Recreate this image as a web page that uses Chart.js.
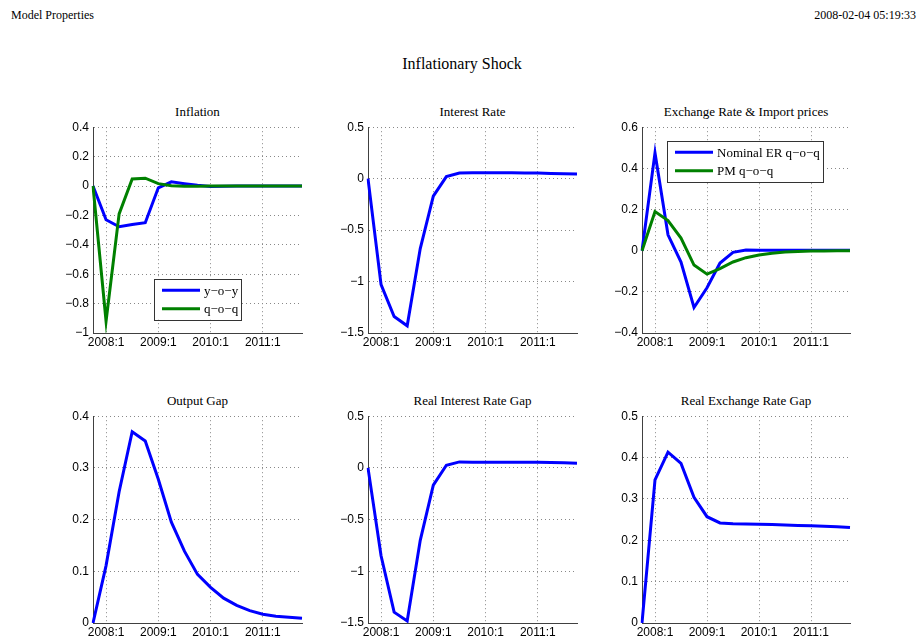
<!DOCTYPE html>
<html>
<head>
<meta charset="utf-8">
<title>Inflationary Shock</title>
<script src="https://cdn.jsdelivr.net/npm/chart.js@4.4.1/dist/chart.umd.min.js"></script>
<style>
body { margin: 0; background: #fff; width: 917px; height: 642px; position: relative; overflow: hidden; font-family: "Liberation Serif", "Times New Roman", serif; color: #000; }
.txt { position: absolute; white-space: nowrap; line-height: 1; }
.ttl { position: absolute; text-align: center; font-size: 13px; line-height: 1; white-space: nowrap; }
canvas { position: absolute; }
</style>
</head>
<body>
<div class="txt" style="left:11px; top:9px; font-size:12px;">Model Properties</div>
<div class="txt" style="right:1px; top:9px; font-size:12px;">2008-02-04 05:19:33</div>
<div class="txt" style="left:0; width:924px; text-align:center; top:56px; font-size:16px;">Inflationary Shock</div>
<div id="wrap"></div>
<script>
// quarters 2007:4 .. 2011:4
var quarters = ['2007:4','2008:1','2008:2','2008:3','2008:4','2009:1','2009:2','2009:3','2009:4',
	'2010:1','2010:2','2010:3','2010:4','2011:1','2011:2','2011:3','2011:4'];

var infl_yoy = [0, -0.23, -0.277, -0.262, -0.25, -0.012, 0.028, 0.016, 0.005, -0.003, -0.002, 0, 0, 0, 0, 0, 0];
var infl_qoq = [0, -0.92, -0.19, 0.048, 0.053, 0.016, 0.001, -0.002, -0.001, 0, 0, 0, 0, 0, 0, 0, 0];

var int_rate = [0, -1.03, -1.34, -1.43, -0.68, -0.17, 0.02, 0.055, 0.057, 0.057, 0.057, 0.057, 0.056, 0.054, 0.051, 0.048, 0.045];

var ner_qoq = [0, 0.475, 0.077, -0.055, -0.276, -0.18, -0.06, -0.008, 0.003, 0.002, 0.002, 0.002, 0.002, 0.002, 0.002, 0.002, 0.002];
var pm_qoq = [0, 0.19, 0.146, 0.061, -0.07, -0.114, -0.087, -0.055, -0.034, -0.021, -0.013, -0.007, -0.004, -0.002, -0.001, 0, 0];

var output_gap = [0, 0.111, 0.254, 0.37, 0.352, 0.278, 0.195, 0.139, 0.094, 0.069, 0.048, 0.034, 0.024, 0.017, 0.013, 0.011, 0.009];

var real_int_gap = [0, -0.85, -1.395, -1.48, -0.7, -0.167, 0.026, 0.058, 0.055, 0.054, 0.054, 0.055, 0.055, 0.054, 0.052, 0.05, 0.045];

var real_er_gap = [0, 0.346, 0.413, 0.386, 0.304, 0.257, 0.242, 0.24, 0.2395, 0.239, 0.238, 0.237, 0.236, 0.235, 0.234, 0.233, 0.231];

var BLUE = '#0000ff', GREEN = '#008000';

// boxed legend drawn inside the axes, like matlab's
var boxLegend = {
	id: 'boxLegend',
	afterDatasetsDraw(chart, args, opts) {
		if(!opts.display) return;
		let ctx = chart.ctx, a = chart.chartArea;
		let sets = chart.data.datasets;
		ctx.save();
		ctx.font = '13px "Liberation Serif", serif';
		let tw = 0;
		for(let i = 0; i < sets.length; i++) tw = Math.max(tw, ctx.measureText(sets[i].label).width);
		let x = a.left + opts.x, y = a.top + opts.y;
		let w = 8 + 38 + 4 + tw + 3, h = 11 + 18.5*(sets.length-1) + 11;
		ctx.fillStyle = '#fff';
		ctx.fillRect(x, y, w, h);
		ctx.strokeStyle = '#333';
		ctx.lineWidth = 1;
		ctx.strokeRect(Math.round(x)+0.5, Math.round(y)+0.5, Math.round(w), Math.round(h));
		ctx.textBaseline = 'middle';
		for(let i = 0; i < sets.length; i++) {
			let ry = y + 11 + i*18.5;
			ctx.strokeStyle = sets[i].borderColor;
			ctx.lineWidth = 3;
			ctx.beginPath();
			ctx.moveTo(x+8, ry);
			ctx.lineTo(x+46, ry);
			ctx.stroke();
			ctx.fillStyle = '#000';
			ctx.fillText(sets[i].label, x+50, ry+1);
		}
		ctx.restore();
	}
};

function fmt(v) {
	return String(+v.toFixed(2)).replace('-', '\u2212');
}

function panel(area, title, datasets, ymin, ymax, step, legend) {
	let wrap = document.getElementById('wrap');
	let t = document.createElement('div');
	t.className = 'ttl';
	t.style.left = area.l + 'px';
	t.style.width = (area.r - area.l) + 'px';
	t.style.top = (area.t - 21) + 'px';
	t.textContent = title;
	wrap.appendChild(t);

	let cv = document.createElement('canvas');
	let left = area.l - 55, top = area.t - 10;
	let w = area.r - left + 1, h = area.b + 20 - top;
	cv.style.left = left + 'px';
	cv.style.top = top + 'px';
	cv.style.width = w + 'px';
	cv.style.height = h + 'px';
	cv.width = w; cv.height = h;
	wrap.appendChild(cv);

	let grid = {
		color: '#888',
		lineWidth: 1,
		drawTicks: false
	};
	// border.dash only dashes the grid lines, the axis line itself stays solid
	let border = { display: true, color: '#404040', width: 1, dash: [1, 3] };
	let tickFont = { family: '"Liberation Sans", Arial, sans-serif', size: 12 };

	new Chart(cv, {
		type: 'line',
		data: {
			labels: quarters,
			datasets: datasets.map((d, i) => ({
				label: d.label,
				data: d.data,
				borderColor: d.color,
				borderWidth: 3,
				pointRadius: 0,
				tension: 0,
				fill: false,
				order: datasets.length - i
			}))
		},
		options: {
			responsive: false,
			animation: false,
			events: [],
			layout: { padding: { top: 10, left: 0, right: 1, bottom: 0 } },
			plugins: {
				legend: { display: false },
				tooltip: { enabled: false },
				boxLegend: legend ? Object.assign({ display: true }, legend) : { display: false }
			},
			scales: {
				x: {
					type: 'category',
					offset: false,
					grid: grid,
					border: border,
					ticks: {
						autoSkip: false,
						maxRotation: 0,
						padding: 2,
						color: '#000',
						font: tickFont,
						callback: function(v) {
							let q = this.getLabelForValue(v);
							return q.slice(-2) == ':1' ? q : null;
						}
					},
					afterFit: s => { s.height = 20; }
				},
				y: {
					min: ymin,
					max: ymax,
					grid: grid,
					border: border,
					ticks: {
						stepSize: step,
						padding: 4,
						color: '#000',
						font: tickFont,
						callback: fmt
					},
					afterFit: s => { s.width = 55; }
				}
			}
		},
		plugins: [boxLegend]
	});
}

function init() {
	panel({l: 93, r: 302, t: 126, b: 333}, 'Inflation',
		[{label: 'y\u2212o\u2212y', data: infl_yoy, color: BLUE}, {label: 'q\u2212o\u2212q', data: infl_qoq, color: GREEN}],
		-1, 0.4, 0.2, {x: 61, y: 152});
	panel({l: 368, r: 577, t: 126, b: 333}, 'Interest Rate',
		[{label: 'Interest Rate', data: int_rate, color: BLUE}],
		-1.5, 0.5, 0.5, null);
	panel({l: 642, r: 850, t: 126, b: 333}, 'Exchange Rate & Import prices',
		[{label: 'Nominal ER q\u2212o\u2212q', data: ner_qoq, color: BLUE}, {label: 'PM q\u2212o\u2212q', data: pm_qoq, color: GREEN}],
		-0.4, 0.6, 0.2, {x: 25, y: 14});
	panel({l: 93, r: 302, t: 415, b: 623}, 'Output Gap',
		[{label: 'Output Gap', data: output_gap, color: BLUE}],
		0, 0.4, 0.1, null);
	panel({l: 368, r: 577, t: 415, b: 623}, 'Real Interest Rate Gap',
		[{label: 'Real Interest Rate Gap', data: real_int_gap, color: BLUE}],
		-1.5, 0.5, 0.5, null);
	panel({l: 642, r: 850, t: 415, b: 623}, 'Real Exchange Rate Gap',
		[{label: 'Real Exchange Rate Gap', data: real_er_gap, color: BLUE}],
		0, 0.5, 0.1, null);
}

document.addEventListener('DOMContentLoaded', init);
</script>
</body>
</html>
